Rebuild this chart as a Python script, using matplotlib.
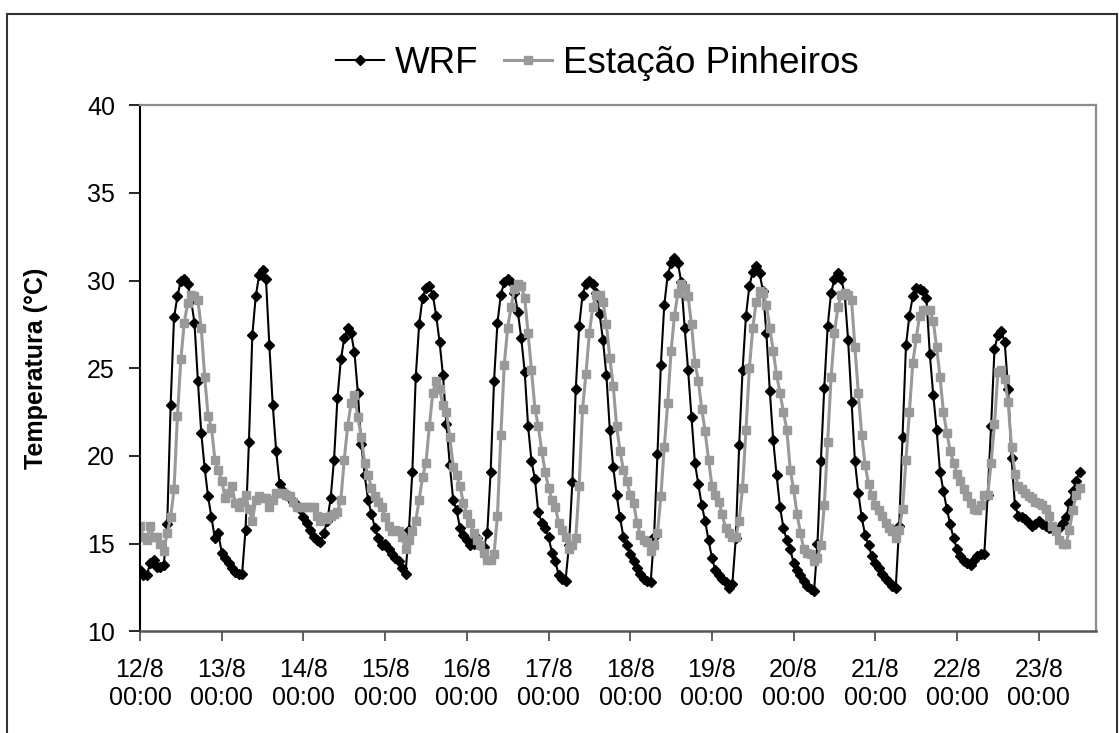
import matplotlib
matplotlib.use("Agg")
import matplotlib.pyplot as plt
from matplotlib.patches import Rectangle
import numpy as np

plt.rcParams['font.family'] = ['Liberation Sans', 'DejaVu Sans']

# hourly temperatures (°C), one list per day, starting at 00:00
# WRF model
wrf_12 = [13.5, 13.2, 13.2, 13.9, 14.1, 13.7, 13.7, 13.8, 16.1, 22.9, 27.9, 29.1, 30.0, 30.1, 29.8, 28.9, 27.6, 24.3, 21.3, 19.3, 17.7, 16.5, 15.3, 15.6]
wrf_13 = [14.5, 14.2, 13.9, 13.6, 13.4, 13.3, 13.3, 15.8, 20.8, 26.9, 29.1, 30.3, 30.6, 30.1, 26.3, 22.9, 20.3, 18.4, 18.0, 17.8, 17.6, 17.4, 17.2, 17.0]
wrf_14 = [16.5, 16.2, 15.8, 15.4, 15.2, 15.1, 15.6, 16.3, 17.6, 19.8, 23.3, 25.5, 26.7, 27.3, 27.0, 25.9, 23.6, 20.7, 18.9, 17.5, 16.7, 15.9, 15.3, 14.9]
wrf_15 = [15.0, 14.7, 14.4, 14.2, 14.0, 13.6, 13.3, 15.8, 19.1, 24.5, 27.5, 29.0, 29.6, 29.7, 29.2, 28.0, 26.5, 24.6, 21.8, 19.5, 17.5, 16.9, 15.9, 15.5]
wrf_16 = [15.2, 14.9, 15.0, 15.3, 14.9, 14.8, 15.6, 19.1, 24.3, 27.6, 29.2, 29.9, 30.1, 29.9, 29.3, 28.2, 26.7, 24.8, 21.7, 19.7, 18.7, 16.8, 16.2, 15.9]
wrf_17 = [15.4, 14.5, 14.0, 13.2, 13.0, 12.9, 14.9, 18.5, 23.8, 27.4, 29.2, 29.8, 30.0, 29.8, 29.3, 28.1, 26.6, 24.6, 21.5, 19.4, 17.8, 16.5, 15.4, 14.9]
wrf_18 = [14.4, 14.0, 13.6, 13.3, 13.0, 12.9, 12.8, 15.4, 20.1, 25.2, 28.6, 30.3, 31.0, 31.3, 31.0, 29.9, 27.3, 24.9, 22.2, 19.6, 18.4, 17.2, 16.3, 15.2]
wrf_19 = [14.2, 13.5, 13.2, 13.0, 12.8, 12.5, 12.7, 15.3, 20.6, 24.9, 28.0, 29.7, 30.5, 30.8, 30.4, 29.4, 27.0, 23.7, 20.9, 18.9, 17.1, 15.9, 15.2, 14.7]
wrf_20 = [13.9, 13.5, 13.2, 12.9, 12.6, 12.4, 12.3, 15.0, 19.7, 23.9, 27.4, 29.3, 30.1, 30.4, 30.1, 29.2, 26.6, 23.1, 19.7, 17.9, 16.5, 15.5, 14.9, 14.3]
wrf_21 = [13.9, 13.6, 13.3, 13.0, 12.8, 12.6, 12.5, 16.0, 21.1, 26.3, 28.0, 29.1, 29.6, 29.5, 29.4, 29.0, 25.8, 23.5, 21.5, 19.1, 18.0, 17.0, 16.1, 15.3]
wrf_22 = [14.7, 14.3, 14.0, 13.9, 13.8, 14.1, 14.3, 14.4, 14.4, 17.8, 21.7, 26.1, 26.9, 27.1, 26.5, 23.8, 19.9, 17.2, 16.6, 16.5, 16.4, 16.2, 16.0, 16.1]
wrf_23 = [16.3, 16.1, 16.0, 15.9, 15.9, 15.8, 15.9, 16.2, 16.5, 17.3, 18.0, 18.6, 19.1]

# Estação Pinheiros (observed)
est_12 = [16.0, 15.4, 15.2, 16.0, 15.4, 15.4, 15.0, 14.6, 15.6, 16.5, 18.1, 22.3, 25.5, 27.6, 28.7, 29.2, 29.1, 28.9, 27.3, 24.5, 22.3, 21.6, 19.8, 19.2]
est_13 = [18.6, 17.6, 17.9, 18.3, 17.3, 17.1, 17.4, 17.8, 17.0, 16.3, 17.5, 17.7, 17.6, 17.6, 17.1, 17.5, 17.9, 17.9, 17.9, 17.8, 17.7, 17.4, 17.1, 17.1]
est_14 = [17.1, 17.1, 17.1, 17.1, 16.6, 16.3, 16.5, 16.4, 16.6, 16.7, 16.8, 17.5, 19.8, 21.7, 23.0, 23.5, 22.2, 21.1, 19.6, 18.9, 18.2, 17.7, 17.4, 17.1]
est_15 = [16.5, 16.0, 15.7, 15.8, 15.7, 15.4, 14.7, 15.2, 15.7, 16.3, 17.5, 18.8, 19.6, 21.7, 23.6, 24.3, 23.8, 22.9, 22.5, 21.1, 19.4, 18.9, 18.3, 17.3]
est_16 = [16.7, 16.2, 15.6, 15.2, 14.9, 14.5, 14.1, 14.1, 14.4, 16.6, 21.2, 25.2, 27.3, 28.5, 29.5, 29.8, 29.7, 29.0, 27.0, 24.9, 22.7, 21.7, 20.3, 19.1]
est_17 = [18.2, 17.5, 17.1, 16.2, 15.8, 15.4, 14.7, 14.9, 15.3, 18.3, 22.7, 24.7, 27.0, 28.5, 29.2, 29.2, 28.8, 27.5, 25.6, 24.0, 21.7, 20.3, 19.2, 18.6]
est_18 = [17.8, 17.3, 16.2, 15.5, 15.2, 15.1, 14.6, 14.9, 15.6, 17.7, 20.5, 23.0, 26.0, 28.0, 29.3, 29.8, 29.6, 29.1, 27.5, 25.3, 24.3, 22.7, 21.4, 19.8]
est_19 = [18.3, 17.8, 17.4, 16.7, 15.9, 15.6, 15.4, 15.4, 16.3, 18.2, 21.5, 25.0, 27.3, 28.8, 29.4, 29.3, 28.6, 27.3, 26.0, 24.6, 23.6, 22.5, 21.5, 19.2]
est_20 = [18.1, 16.7, 15.6, 14.7, 14.5, 14.4, 14.0, 14.2, 14.9, 17.2, 20.8, 24.5, 27.0, 28.5, 29.2, 29.3, 29.2, 28.9, 26.2, 23.6, 21.2, 19.5, 18.4, 17.8]
est_21 = [17.2, 16.9, 16.6, 16.2, 15.9, 15.7, 15.3, 15.8, 17.0, 19.8, 22.5, 25.3, 26.7, 28.0, 28.3, 28.3, 28.3, 27.7, 26.2, 24.5, 22.5, 21.3, 20.3, 19.6]
est_22 = [19.0, 18.6, 18.1, 17.7, 17.3, 17.0, 16.9, 17.2, 17.8, 17.8, 19.6, 21.8, 24.8, 24.9, 24.4, 23.1, 20.5, 19.0, 18.3, 18.1, 17.9, 17.7, 17.6, 17.4]
est_23 = [17.3, 17.2, 17.0, 16.6, 16.0, 15.7, 15.2, 15.0, 15.0, 15.8, 16.9, 17.8, 18.2]

days = ['12/8', '13/8', '14/8', '15/8', '16/8', '17/8', '18/8', '19/8', '20/8', '21/8', '22/8', '23/8']

wrf = wrf_12 + wrf_13 + wrf_14 + wrf_15 + wrf_16 + wrf_17 + wrf_18 + wrf_19 + wrf_20 + wrf_21 + wrf_22 + wrf_23
est = est_12 + est_13 + est_14 + est_15 + est_16 + est_17 + est_18 + est_19 + est_20 + est_21 + est_22 + est_23
hours = np.arange(len(wrf))

fig = plt.figure(figsize=(11.19, 7.33), dpi=100, facecolor='white')
ax = fig.add_axes([0.1251, 0.1385, 0.8543, 0.7182])

ax.plot(hours, wrf, color='black', lw=1.5, marker='D', ms=4.6, label='WRF')
ax.plot(hours, est, color='#999999', lw=2.2, marker='s', ms=5.8, label='Estação Pinheiros')

ax.set_ylim(10, 40)
ax.set_yticks(np.arange(10, 41, 5))
ax.set_xlim(0, 280.8)
ax.set_xticks(np.arange(len(days)) * 24)
ax.set_xticklabels([d + '\n00:00' for d in days])

ax.tick_params(axis='y', direction='out', length=8, width=1.2, pad=10, labelsize=18)
ax.tick_params(axis='x', direction='out', length=7, width=1.2, pad=12, labelsize=18, color='#444444')

ax.spines['left'].set_color('black')
ax.spines['left'].set_linewidth(1.5)
ax.spines['bottom'].set_color('#555555')
ax.spines['bottom'].set_linewidth(1.8)
ax.spines['top'].set_color('#8c8c8c')
ax.spines['top'].set_linewidth(1.6)
ax.spines['right'].set_color('#8c8c8c')
ax.spines['right'].set_linewidth(1.6)

fig.text(36 / 1119, 1 - 368 / 733, 'Temperatura (°C)', rotation=90, ha='center', va='center',
         fontsize=18, fontweight='bold')

fig.legend(loc='center', bbox_to_anchor=(0.534, 0.913), ncol=2, frameon=False, fontsize=26.5,
           handlelength=1.3, handletextpad=0.3, columnspacing=0.7, markerscale=1.0)

# outer chart border
fig.add_artist(Rectangle((7 / 1119, -0.1), 1109.5 / 1119, 1.1 - 14 / 733, transform=fig.transFigure,
                         fill=False, lw=1.5, ec='#333333'))

plt.savefig('out.png', dpi=100, facecolor='white')
